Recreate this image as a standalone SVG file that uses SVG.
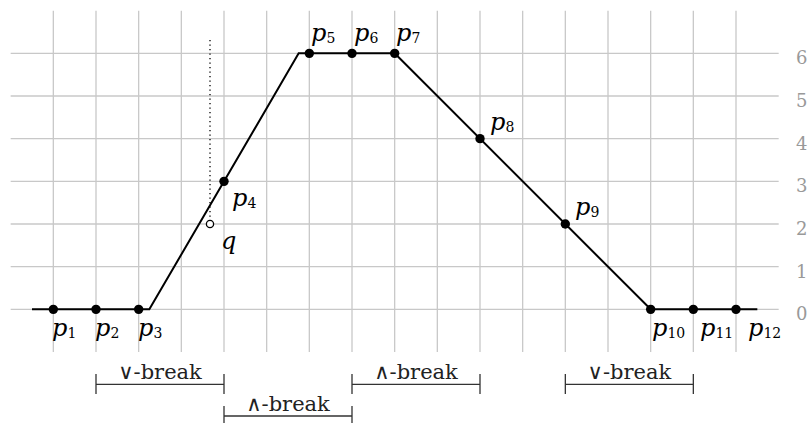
<svg xmlns="http://www.w3.org/2000/svg" width="810" height="423" viewBox="0 0 810 423">
<style>
.grid line{stroke:#c8c8c8;stroke-width:1.3}
.curve{fill:none;stroke:#000;stroke-width:2;stroke-linejoin:miter}
.dot{fill:#000}
.lbl{font-family:"DejaVu Serif",serif;font-style:italic;font-size:24px;fill:#000}
.sub{font-style:normal;font-size:14px}
.num{font-family:"DejaVu Serif",serif;font-size:18px;fill:#999}
.brk{font-family:"DejaVu Serif",serif;font-size:21px;fill:#222;text-anchor:middle}
.br{fill:none;stroke:#333;stroke-width:1.3}
</style>
<rect width="810" height="423" fill="#fff"/>
<g id="grid" class="grid">
<line x1="10.67" y1="309.33" x2="778.67" y2="309.33"/>
<line x1="10.67" y1="266.67" x2="778.67" y2="266.67"/>
<line x1="10.67" y1="224" x2="778.67" y2="224"/>
<line x1="10.67" y1="181.33" x2="778.67" y2="181.33"/>
<line x1="10.67" y1="138.67" x2="778.67" y2="138.67"/>
<line x1="10.67" y1="96" x2="778.67" y2="96"/>
<line x1="10.67" y1="53.33" x2="778.67" y2="53.33"/>
<line x1="53.33" y1="10.67" x2="53.33" y2="352"/>
<line x1="96" y1="10.67" x2="96" y2="352"/>
<line x1="138.67" y1="10.67" x2="138.67" y2="352"/>
<line x1="181.33" y1="10.67" x2="181.33" y2="352"/>
<line x1="224" y1="10.67" x2="224" y2="352"/>
<line x1="266.67" y1="10.67" x2="266.67" y2="352"/>
<line x1="309.33" y1="10.67" x2="309.33" y2="352"/>
<line x1="352" y1="10.67" x2="352" y2="352"/>
<line x1="394.67" y1="10.67" x2="394.67" y2="352"/>
<line x1="437.33" y1="10.67" x2="437.33" y2="352"/>
<line x1="480" y1="10.67" x2="480" y2="352"/>
<line x1="522.67" y1="10.67" x2="522.67" y2="352"/>
<line x1="565.33" y1="10.67" x2="565.33" y2="352"/>
<line x1="608" y1="10.67" x2="608" y2="352"/>
<line x1="650.67" y1="10.67" x2="650.67" y2="352"/>
<line x1="693.33" y1="10.67" x2="693.33" y2="352"/>
<line x1="736" y1="10.67" x2="736" y2="352"/>
</g>
<g id="axis-labels" class="num">
<text x="796" y="320">0</text>
<text x="796" y="277.7">1</text>
<text x="796" y="235">2</text>
<text x="796" y="192.3">3</text>
<text x="796" y="149.7">4</text>
<text x="796" y="107">5</text>
<text x="796" y="64.3">6</text>
</g>
<g id="connectors">
<polyline class="curve" points="32,309.33 149.33,309.33 298.67,53.33 394.67,53.33 650.67,309.33 757.33,309.33"/>
<line x1="210" y1="40" x2="210" y2="218" stroke="#000" stroke-width="1.3" stroke-dasharray="1.3 3.2"/>
</g>
<g id="p1"><circle class="dot" cx="53.33" cy="309.33" r="4.7"/><text class="lbl" x="52" y="336">p<tspan class="sub" dy="2">1</tspan></text></g>
<g id="p2"><circle class="dot" cx="96" cy="309.33" r="4.7"/><text class="lbl" x="95" y="336">p<tspan class="sub" dy="2">2</tspan></text></g>
<g id="p3"><circle class="dot" cx="138.67" cy="309.33" r="4.7"/><text class="lbl" x="138" y="336">p<tspan class="sub" dy="2">3</tspan></text></g>
<g id="p4"><circle class="dot" cx="224" cy="181.33" r="4.7"/><text class="lbl" x="232" y="206">p<tspan class="sub" dy="2">4</tspan></text></g>
<g id="q"><circle cx="210" cy="224" r="3.6" fill="#fff" stroke="#000" stroke-width="1.3"/><text class="lbl" x="221" y="249">q</text></g>
<g id="p5"><circle class="dot" cx="309.33" cy="53.33" r="4.7"/><text class="lbl" x="311" y="41">p<tspan class="sub" dy="2">5</tspan></text></g>
<g id="p6"><circle class="dot" cx="352" cy="53.33" r="4.7"/><text class="lbl" x="354" y="41">p<tspan class="sub" dy="2">6</tspan></text></g>
<g id="p7"><circle class="dot" cx="394.67" cy="53.33" r="4.7"/><text class="lbl" x="396" y="41">p<tspan class="sub" dy="2">7</tspan></text></g>
<g id="p8"><circle class="dot" cx="480" cy="138.67" r="4.7"/><text class="lbl" x="490" y="130">p<tspan class="sub" dy="2">8</tspan></text></g>
<g id="p9"><circle class="dot" cx="565.33" cy="224" r="4.7"/><text class="lbl" x="575" y="215">p<tspan class="sub" dy="2">9</tspan></text></g>
<g id="p10"><circle class="dot" cx="650.67" cy="309.33" r="4.7"/><text class="lbl" x="652" y="336">p<tspan class="sub" dy="2">10</tspan></text></g>
<g id="p11"><circle class="dot" cx="693.33" cy="309.33" r="4.7"/><text class="lbl" x="700" y="336">p<tspan class="sub" dy="2">11</tspan></text></g>
<g id="p12"><text class="lbl" x="748" y="336">p<tspan class="sub" dy="2">12</tspan></text><circle class="dot" cx="736" cy="309.33" r="4.7"/></g>
<g id="break1"><path class="br" d="M96,374V394M96,384.3H224M224,374V394"/><text class="brk" x="160" y="379">∨-break</text></g>
<g id="break2"><path class="br" d="M224,406V426M224,416H352M352,406V426"/><text class="brk" x="288" y="411">∧-break</text></g>
<g id="break3"><path class="br" d="M352,374V394M352,384.3H480M480,374V394"/><text class="brk" x="416" y="379">∧-break</text></g>
<g id="break4"><path class="br" d="M565.33,374V394M565.33,384.3H693.33M693.33,374V394"/><text class="brk" x="629.33" y="379">∨-break</text></g>
</svg>
